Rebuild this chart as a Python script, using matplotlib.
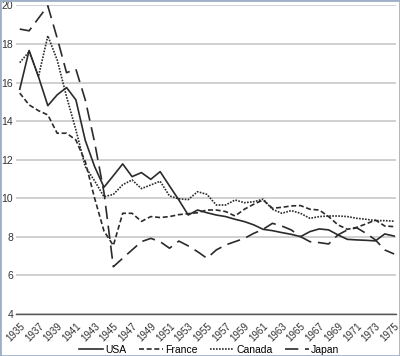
import matplotlib
matplotlib.use("Agg")
import matplotlib.pyplot as plt
from matplotlib.patches import Rectangle

plt.rcParams["font.family"] = ["Liberation Sans", "DejaVu Sans"]

years = list(range(1935, 1976))
usa = [15.65, 17.66, 16.3, 14.8, 15.36, 15.74, 15.1, 13.0, 11.64, 10.57,
       11.17, 11.78, 11.12, 11.33, 10.98, 11.38, 10.64, 9.91, 9.13, 9.39,
       9.25, 9.13, 9.05, 8.91, 8.79, 8.62, 8.39, 8.32, 8.22, 8.13,
       8.01, 8.27, 8.41, 8.36, 8.1, 7.87, 7.84, 7.82, 7.79, 8.15, 8.04]
france = [15.45, 14.84, 14.54, 14.32, 13.37, 13.37, 13.02, 11.9, 10.0, 8.3,
          7.55, 9.22, 9.22, 8.8, 9.05, 9.0, 9.05, 9.15, 9.2, 9.25,
          9.39, 9.39, 9.31, 9.08, 9.43, 9.69, 9.91, 9.48, 9.53, 9.6,
          9.62, 9.43, 9.39, 9.05, 8.62, 8.39, 8.49, 8.67, 8.87, 8.56, 8.53]
canada = [17.03, 17.6, 16.31, 18.42, 17.17, 15.27, 13.54, 11.64, 10.9, 10.08,
          10.2, 10.7, 10.95, 10.5, 10.69, 10.88, 10.12, 9.97, 9.93, 10.34,
          10.2, 9.65, 9.65, 9.91, 9.77, 9.82, 9.95, 9.43, 9.22, 9.36,
          9.22, 8.96, 9.05, 9.08, 9.08, 9.05, 8.96, 8.91, 8.84, 8.84, 8.81]
japan = [18.77, 18.68, 19.33, 19.97, 18.3, 16.51, 16.69, 15.1, 12.9, 10.3,
         6.45, 6.89, 7.32, 7.75, 7.92, 7.75, 7.41, 7.78, 7.53, 7.23,
         6.89, 7.32, 7.58, 7.75, 7.92, 8.18, 8.39, 8.7, 8.56, 8.36,
         8.01, 7.75, 7.7, 7.63, 8.1, 8.36, 8.47, 8.18, 7.84, 7.32, 7.11]
xticks = list(range(1935, 1976, 2))
yticks = list(range(4, 21, 2))

fig = plt.figure(figsize=(4.0, 3.56), dpi=100)
ax = fig.add_axes([0.04, 0.118, 0.95, 0.867])

lc = "#2b2b2b"
ax.plot(years, usa, color=lc, lw=1.2, ls="-", label="USA")
ax.plot(years, france, color=lc, lw=1.2, ls=(0, (3, 1.6)), label="France")
ax.plot(years, canada, color=lc, lw=1.2, ls=(0, (1, 0.8)), label="Canada")
ax.plot(years, japan, color=lc, lw=1.2, ls=(0, (8, 4)), label="Japan")

ax.set_xlim(1934.6, 1975.2)
ax.set_ylim(4, 20)
ax.set_yticks(yticks)
ax.set_xticks(xticks)
ax.set_xticklabels([str(y) for y in xticks], rotation=45, ha="right",
                   rotation_mode="anchor", fontsize=7, color="#333333")
ax.set_yticklabels([str(y) for y in yticks], fontsize=7.5, color="#333333")
ax.tick_params(axis="x", length=0, pad=5)
ax.tick_params(axis="y", length=0, pad=2)
ax.grid(axis="y", color="#c8c8c8", lw=1.2)
ax.set_axisbelow(True)
for s in ["top", "right", "left"]:
    ax.spines[s].set_visible(False)
ax.spines["bottom"].set_color("#555555")
ax.spines["bottom"].set_linewidth(1.0)

leg = fig.legend(loc="center", bbox_to_anchor=(0.523, 0.018), ncol=4, frameon=False,
                 fontsize=7.5, handlelength=2.3, columnspacing=1.15, handletextpad=0.25,
                 borderaxespad=0, borderpad=0)

fig.add_artist(Rectangle((0, 0), 1, 1, transform=fig.transFigure, fill=False,
                         edgecolor="#9fb0c6", lw=2))
fig.savefig("out.png", dpi=100)
